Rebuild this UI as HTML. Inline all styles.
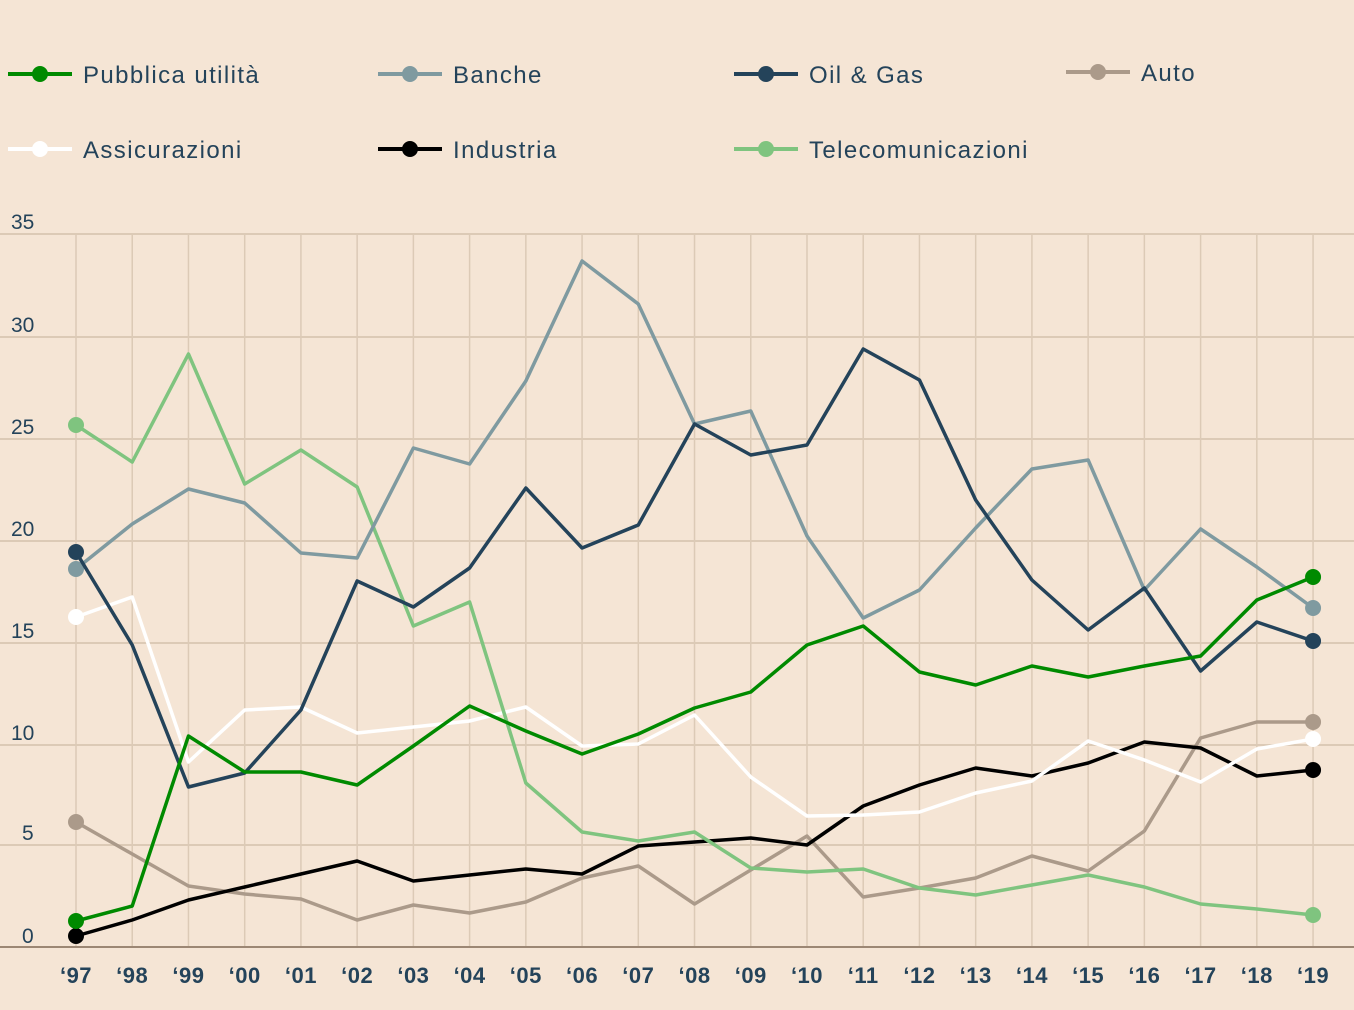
<!DOCTYPE html>
<html><head><meta charset="utf-8"><style>
html,body{margin:0;padding:0;background:#f5e5d5;}
svg{display:block;font-family:"Liberation Sans",sans-serif;}
</style></head><body>
<svg width="1354" height="1010" viewBox="0 0 1354 1010" xmlns="http://www.w3.org/2000/svg">
<rect width="1354" height="1010" fill="#f5e5d5"/>
<g id="grid" stroke="#dccab6" stroke-width="2"></g>
<g id="ylab" fill="#24435a" font-size="21"></g>
<g id="xlab" fill="#24435a" font-size="22" font-weight="bold" text-anchor="middle" letter-spacing="0.5"></g>
<line x1="0" y1="947" x2="1354" y2="947" stroke="#9c8774" stroke-width="2"/>
<g id="series" fill="none" stroke-width="3.5" stroke-linejoin="round"></g>
<g id="legend" font-size="24" fill="#24435a" letter-spacing="1.4"></g>
</svg>
<script>
const ns="http://www.w3.org/2000/svg";
function el(p,t,a,txt){const e=document.createElementNS(ns,t);for(const k in a)e.setAttribute(k,a[k]);if(txt!=null)e.textContent=txt;document.getElementById(p).appendChild(e);return e;}
const X=i=>76+56.23*i;
const gy=[234,337,439,541,643,745,845];
gy.forEach(y=>el('grid','line',{x1:0,x2:1354,y1:y,y2:y}));
for(let i=0;i<23;i++)el('grid','line',{x1:X(i),x2:X(i),y1:234,y2:947,'stroke-width':1.5});
['35','30','25','20','15','10','5','0'].forEach((t,i)=>el('ylab','text',{x:t.length>1?11:22,y:[229,332,434,536,638,740,840,943][i]},t));
const yrs=['97','98','99','00','01','02','03','04','05','06','07','08','09','10','11','12','13','14','15','16','17','18','19'];
yrs.forEach((t,i)=>el('xlab','text',{x:X(i),y:983},'\u2018'+t));
const S=[
['#ab9a8a',[822,854,886,894,899,920,905,913,902,878,866,904,870,836,897,888,878,856,871,831,738,722,722]],
['#000000',[936,920,900,887,874,861,881,875,869,874,846,842,838,845,806,785,768,776,763,742,748,776,770]],
['#ffffff',[617,597,762,710,707,733,727,721,707,746,744,715,777,816,815,812,793,781,741,760,782,749,739]],
['#7fc47f',[425,462,354,484,450,487,626,602,783,832,841,832,868,872,869,888,895,885,875,887,904,909,915]],
['#7f9aa0',[569,524,489,503,553,558,448,464,381,261,304,424,411,536,618,590,528,469,460,590,529,567,608]],
['#24435a',[552,645,787,773,710,581,607,568,488,548,525,424,455,445,349,380,500,580,630,588,671,622,641]],
['#008a00',[921,906,736,772,772,785,746,706,731,754,734,708,692,645,626,672,685,666,677,666,656,600,577]]
];
S.forEach(([c,v])=>{
 el('series','polyline',{points:v.map((y,i)=>X(i)+','+y).join(' '),stroke:c});
 el('series','circle',{cx:X(0),cy:v[0],r:8,fill:c,stroke:'none'});
 el('series','circle',{cx:X(22),cy:v[22],r:8,fill:c,stroke:'none'});
});
const L=[['#008a00','Pubblica utilità',8,74],['#7f9aa0','Banche',378,74],['#24435a','Oil & Gas',734,74],['#ab9a8a','Auto',1066,72],
['#ffffff','Assicurazioni',8,149],['#000000','Industria',378,149],['#7fc47f','Telecomunicazioni',734,149]];
L.forEach(([c,t,x,y])=>{
 el('legend','line',{x1:x,x2:x+64,y1:y,y2:y,stroke:c,'stroke-width':4});
 el('legend','circle',{cx:x+32,cy:y,r:8,fill:c});
 el('legend','text',{x:x+75,y:y+9},t);
});
</script>
</body></html>
